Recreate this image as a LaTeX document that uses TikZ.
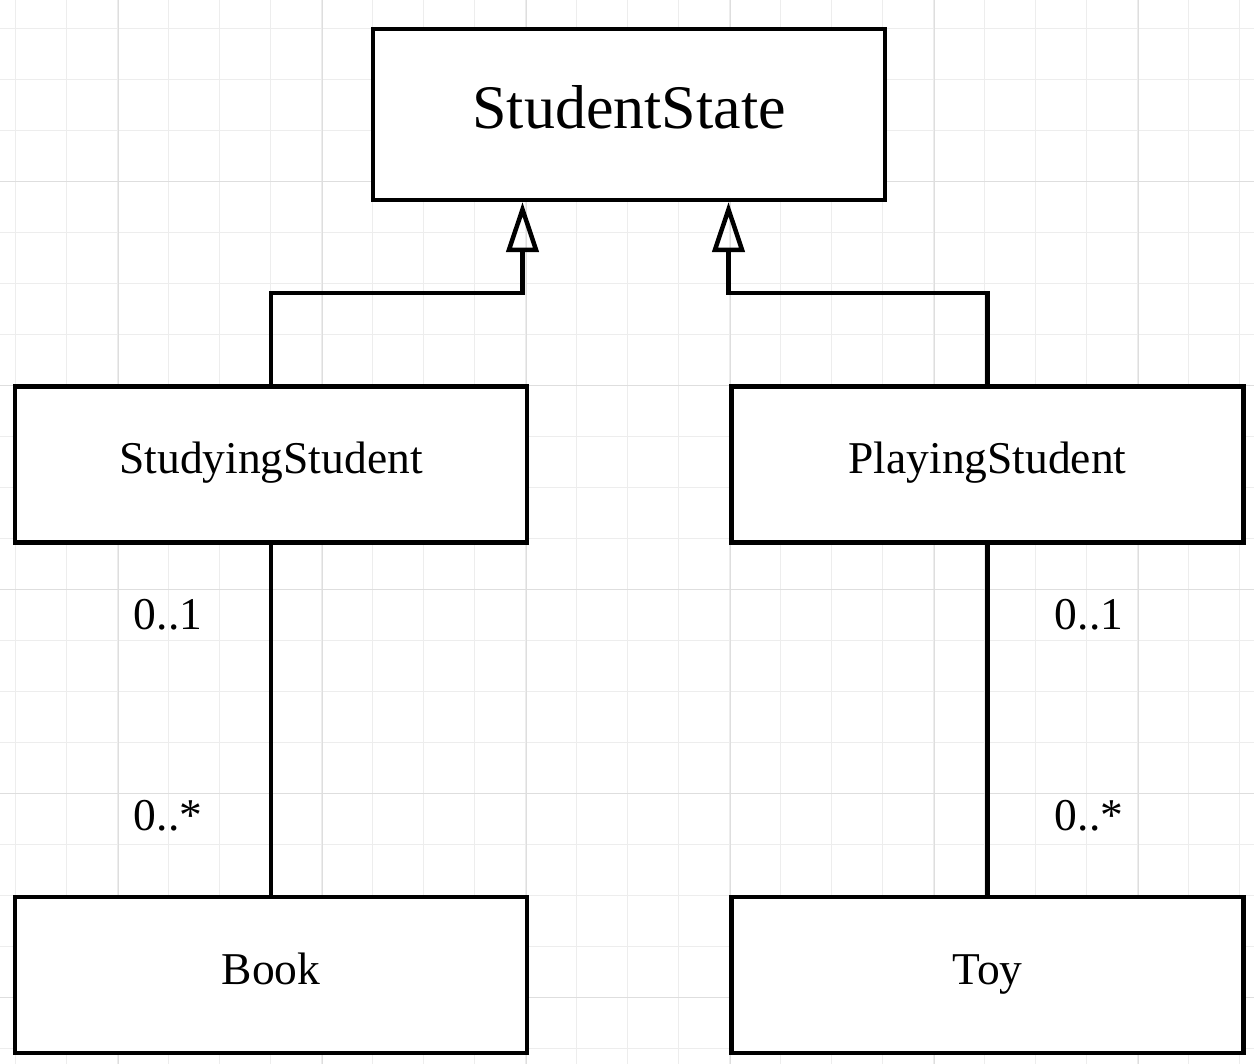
\documentclass[tikz,border=0pt]{standalone}
\usepackage{fontspec}
\setmainfont{Liberation Serif}
\usepackage{xcolor}
\usepackage{tikz}
\usetikzlibrary{arrows.meta, positioning}
\definecolor{ssInk}{HTML}{000000}
\definecolor{ssGridMinor}{HTML}{EDEDED}
\definecolor{ssGridMajor}{HTML}{DEDEDE}
\tikzset{
  ss-class/.style={
    rectangle, draw=ssInk, fill=white, line width=4.5pt,
    minimum width=512pt, minimum height=156pt, align=center,
    text height=30pt, text depth=11pt,
    font=\fontsize{45.5}{50}\selectfont
  },
  ss-title/.style={
    ss-class, minimum height=171pt, text height=42pt, text depth=14pt,
    font=\fontsize{62}{68}\selectfont
  },
  ss-mult/.style={font=\fontsize{45.5}{50}\selectfont, inner sep=0pt, anchor=base},
  ss-inherit/.style={
    -{Triangle[open, length=50pt, width=32pt]}, line width=4.5pt,
    draw=ssInk, line join=miter
  },
  ss-assoc/.style={line width=4.5pt, draw=ssInk},
  ss-grid-minor/.style={line width=1pt, draw=ssGridMinor},
  ss-grid-major/.style={line width=1pt, draw=ssGridMajor},
}
\begin{document}
\begin{tikzpicture}[x=1pt, y=-1pt, node distance=205pt and 200pt]
  \useasboundingbox (0,0) rectangle (1254,1064);
  % background grid
  \foreach \i in {0,...,24}
    \draw[ss-grid-minor] ({15.3+51*\i},0) -- ++(0,1064);
  \foreach \i in {0,...,20}
    \draw[ss-grid-minor] (0,{28.3+51*\i}) -- ++(1254,0);
  \foreach \i in {0,...,5}
    \draw[ss-grid-major] ({118.3+204*\i},0) -- ++(0,1064);
  \foreach \i in {0,...,4}
    \draw[ss-grid-major] (0,{181.3+204*\i}) -- ++(1254,0);

  \node[ss-title] (state) at (629,114.3) {StudentState};
  \node[ss-class] (studying) at (271,464.5) {StudyingStudent};
  \node[ss-class, right=200pt of studying] (playing) {PlayingStudent};
  \node[ss-class, below=350pt of studying] (book) {Book};
  \node[ss-class, below=350pt of playing] (toy) {Toy};

  \draw[ss-inherit] (studying.north) -- ++(0,-91) -| ([xshift=-106.5pt]state.south);
  \draw[ss-inherit] (playing.north) -- ++(0,-91) -| ([xshift=99.5pt]state.south);

  \draw[ss-assoc] (studying) -- (book);
  \draw[ss-assoc] (playing) -- (toy);

  \node[ss-mult] (studyOne) at (168,629) {0..1};
  \node[ss-mult] (studyMany) at (168,830) {0..*};
  \node[ss-mult] (playOne) at (1089,629) {0..1};
  \node[ss-mult] (playMany) at (1089,830) {0..*};
\end{tikzpicture}
\end{document}
